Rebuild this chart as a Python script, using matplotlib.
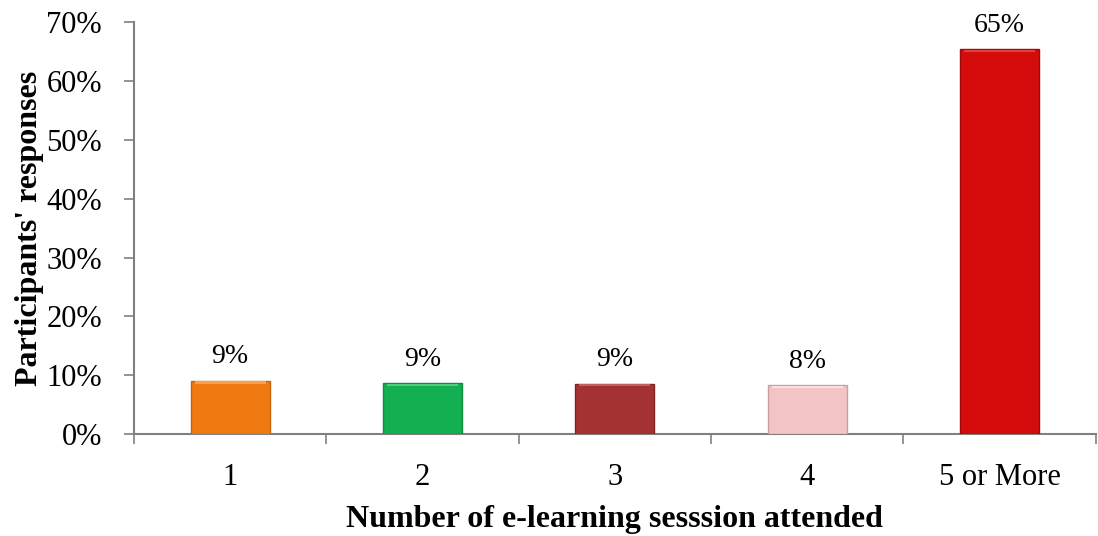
import matplotlib.pyplot as plt
from matplotlib.ticker import PercentFormatter, FixedLocator, NullFormatter

# Share of participants by number of e-learning sessions attended
sessions = ["1", "2", "3", "4", "5 or More"]
shares = [0.091, 0.087, 0.086, 0.083, 0.654]
bar_colors = ["#F07A12", "#12B050", "#A43232", "#F2C4C4", "#D40C0C"]
edge_colors = ["#C8620C", "#0E8C40", "#7E2424", "#C8A0A0", "#A00A0A"]
top_colors = ["#F7A050", "#50CC80", "#C06060", "#FAE0E0", "#E04040"]

plt.rcParams["font.family"] = ["Liberation Serif", "DejaVu Serif"]

fig = plt.figure(figsize=(10.98, 5.36), dpi=100)
ax = fig.add_axes([0.122, 0.19, 0.876, 0.769])

x = range(len(sessions))
bars = ax.bar(x, shares, width=0.41, color=bar_colors,
              edgecolor=edge_colors, linewidth=1.0, zorder=3)

# thin lighter strip along the top of each bar for the bevel look
for b, v, c in zip(bars, shares, top_colors):
    ax.bar(b.get_x() + b.get_width() / 2, 0.004, bottom=v - 0.005,
           width=b.get_width() * 0.9, color=c, linewidth=0, zorder=4)

for b, v in zip(bars, shares):
    ax.annotate(f"{v:.0%}", (b.get_x() + b.get_width() / 2, v),
                xytext=(0, 8), textcoords="offset points",
                ha="center", va="bottom", fontsize=20)

ax.set_xlim(-0.5, len(sessions) - 0.5)
ax.set_ylim(0, 0.70)
ax.set_yticks([i / 10 for i in range(8)])
ax.yaxis.set_major_formatter(PercentFormatter(1.0, decimals=0))

ax.set_xticks(list(x))
ax.set_xticklabels(sessions)
ax.tick_params(axis="x", which="major", length=0, labelsize=22, pad=21)
ax.xaxis.set_minor_locator(FixedLocator([i - 0.5 for i in range(len(sessions) + 1)]))
ax.xaxis.set_minor_formatter(NullFormatter())
ax.tick_params(axis="x", which="minor", length=7, color="#808080", width=1.2)
ax.tick_params(axis="y", length=7, color="#808080", width=1.2, labelsize=22, pad=16)

for side in ["top", "right"]:
    ax.spines[side].set_visible(False)
for side in ["left", "bottom"]:
    ax.spines[side].set_color("#808080")
    ax.spines[side].set_linewidth(1.5)

ax.set_xlabel("Number of e-learning sesssion attended", fontsize=23,
              fontweight="bold", labelpad=9)
ax.set_ylabel("Participants' responses", fontsize=23, fontweight="bold",
              labelpad=2)

fig.savefig("out.png", dpi=100)
